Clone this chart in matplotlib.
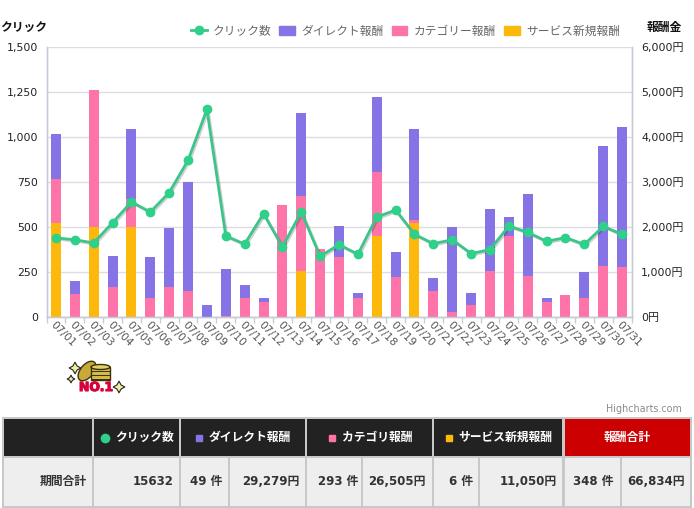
import matplotlib
matplotlib.use("Agg")
import matplotlib.pyplot as plt
import matplotlib.patheffects as pe
from matplotlib.lines import Line2D
from matplotlib.patches import Rectangle, Ellipse, Patch
import numpy as np

plt.rcParams['font.family'] = ['DejaVu Sans', 'Noto Sans CJK JP']

# data
days = [f"07/{d:02d}" for d in range(1, 32)]
clicks = [441, 431, 413, 526, 641, 585, 693, 872, 1155, 452, 407, 576, 391, 585, 339, 404,
          350, 557, 596, 461, 409, 431, 354, 376, 507, 472, 422, 443, 405, 505, 461]
service = [2100, 0, 2000, 0, 2000, 0, 0, 0, 0, 0, 0, 0, 0, 1040, 0, 0,
           0, 1800, 0, 2090, 0, 0, 0, 0, 0, 0, 0, 0, 0, 0, 0]
category = [980, 510, 3050, 670, 640, 420, 670, 580, 0, 20, 420, 330, 2490, 1650, 1510, 1330,
            420, 1430, 890, 65, 580, 110, 270, 1040, 1800, 910, 330, 490, 420, 1130, 1110]
direct = [1000, 290, 0, 690, 1540, 910, 1310, 2420, 270, 1045, 290, 110, 0, 1850, 0, 690,
          110, 1670, 555, 2030, 290, 1890, 265, 1360, 420, 1820, 90, 0, 580, 2675, 3120]

left_ticks = [0, 250, 500, 750, 1000, 1250, 1500]
right_ticks = [0, 1000, 2000, 3000, 4000, 5000, 6000]

table_head = ["クリック数", "ダイレクト報酬", "カテゴリ報酬", "サービス新規報酬", "報酬合計"]
table_row = ["期間合計", "15632", "49 件", "29,279円", "293 件", "26,505円", "6 件", "11,050円", "348 件", "66,834円"]

GREEN = "#2fd08a"
LINE_GREEN = "#3cc48a"
PURPLE = "#8673e6"
PINK = "#ff74a8"
YELLOW = "#fdb90b"
GRID = "#dcdce2"
AXIS = "#c6ccd8"

W, H = 694, 508
fig = plt.figure(figsize=(W / 100, H / 100), dpi=100)
L, R, T, B = 46.5, 631.5, 47.3, 317.3
ax = fig.add_axes([L / W, 1 - B / H, (R - L) / W, (B - T) / H])
ax2 = ax.twinx()
ax.set_zorder(2)
ax.patch.set_visible(False)
ax2.set_zorder(1)

x = np.arange(len(days))
service = np.array(service)
category = np.array(category)
direct = np.array(direct)

# stacked bars on the yen axis
ax2.bar(x, service, width=0.53, color=YELLOW, zorder=3)
ax2.bar(x, category, width=0.53, bottom=service, color=PINK, zorder=3)
ax2.bar(x, direct, width=0.53, bottom=service + category, color=PURPLE, zorder=3)

ax.plot(x, clicks, color=LINE_GREEN, lw=2.0, zorder=5,
        path_effects=[pe.SimpleLineShadow(offset=(1, -1), alpha=0.18, shadow_color="black"), pe.Normal()])
ax.plot(x, clicks, ls="", marker="o", ms=6, mfc=GREEN, mec=GREEN, zorder=6)

ax.set_xlim(-0.5, 30.5)
ax.set_ylim(0, 1500)
ax2.set_ylim(0, 6000)
ax.set_yticks(left_ticks)
ax.set_yticklabels([f"{v:,}" for v in left_ticks], fontsize=7.9, color="#222222")
ax2.set_yticks(right_ticks)
ax2.set_yticklabels([f"{v:,}円" for v in right_ticks], fontsize=7.9, color="#222222")
ax.tick_params(axis="y", length=0, pad=6)
ax2.tick_params(axis="y", length=0, pad=7)
ax2.yaxis.grid(True, color=GRID, lw=1, zorder=0)
ax2.set_axisbelow(True)

# tick marks sit between the days, labels hang off the bar centres
ax.set_xticks(x)
ax.set_xticks(np.append(x - 0.5, x[-1] + 0.5), minor=True)
ax.set_xticklabels(days, rotation=-45, ha="left", va="top", rotation_mode="anchor",
                   fontsize=7.7, color="#555555")
ax.tick_params(axis="x", which="major", length=0, pad=1.5)
ax.tick_params(axis="x", which="minor", length=4, width=1, color=AXIS)
ax2.tick_params(axis="x", length=0, labelbottom=False)

for a in (ax, ax2):
    a.spines["top"].set_visible(False)
    for s in ("left", "right", "bottom"):
        a.spines[s].set_color(AXIS)
        a.spines[s].set_linewidth(1)

handles = [
    Line2D([0], [0], color=LINE_GREEN, lw=2.0, marker="o", ms=6, mfc=GREEN, mec=GREEN),
    Patch(fc=PURPLE, ec=PURPLE),
    Patch(fc=PINK, ec=PINK),
    Patch(fc=YELLOW, ec=YELLOW),
]
names = ["クリック数", "ダイレクト報酬", "カテゴリー報酬", "サービス新規報酬"]
leg = fig.legend(handles, names, ncol=4, frameon=False, fontsize=8.45, labelcolor="#666666",
                 loc="center right", bbox_to_anchor=(620 / W, 1 - 31 / H),
                 handlelength=1.35, handleheight=0.9, handletextpad=0.55, columnspacing=0.65,
                 borderpad=0, borderaxespad=0)

# overlay in pixel coordinates for titles, the medal and the table
ov = fig.add_axes([0, 0, 1, 1], zorder=5)
ov.set_xlim(0, W)
ov.set_ylim(H, 0)
ov.axis("off")

ov.text(0, 27, "クリック", fontsize=8.5, fontweight="bold", color="#111111", va="center")
ov.text(647, 27, "報酬金", fontsize=8.5, fontweight="bold", color="#111111", va="center")
ov.text(682, 409, "Highcharts.com", fontsize=6.9, color="#8a8a8a", ha="right", va="center")

# medal
ov.add_patch(Ellipse((87, 371), 13, 23, angle=40, fc="#c9a93a", ec="#3a3208", lw=1))
ov.add_patch(Rectangle((91, 367), 19, 13, fc="#d5b94a", ec="#3a3208", lw=1))
ov.add_patch(Ellipse((100.5, 367), 19, 5, fc="#e3cf6d", ec="#3a3208", lw=1))
for py in (371, 375, 379):
    ov.plot([91, 110], [py, py], color="#3a3208", lw=0.7)
ov.scatter([75, 71, 119], [368, 379, 387], s=[70, 30, 70], marker=(4, 1, 0), fc="#f4eea0", ec="#222222", lw=0.8)
ov.text(96, 387.5, "NO.1", fontsize=9, fontweight="bold", color="#d8003a", ha="center", va="center",
        path_effects=[pe.withStroke(linewidth=0.8, foreground="#d8003a")])

# table
ov.add_patch(Rectangle((2, 417), 690, 91, fc="#c8c8c8", ec="none"))
head_cells = [(4, 92), (94, 179), (181, 305), (307, 432), (434, 562), (565, 690)]
head_colors = ["#222222"] * 5 + ["#cc0000"]
for (x0, x1), c in zip(head_cells, head_colors):
    ov.add_patch(Rectangle((x0, 419), x1 - x0, 37, fc=c, ec="none"))
body_cells = [(4, 92), (94, 179), (181, 228), (230, 305), (307, 361), (363, 432),
              (434, 478), (480, 562), (565, 620), (622, 690)]
body_right = [87, 174, 222, 299, 358, 426, 473, 557, 614, 685]
for (x0, x1), tx, label in zip(body_cells, body_right, table_row):
    ov.add_patch(Rectangle((x0, 458), x1 - x0, 48, fc="#eeeeee", ec="none"))
    ov.text(tx, 480, label, fontsize=8.5, fontweight="bold", color="#333333", ha="right", va="center_baseline")

markers = [("o", GREEN), ("s", PURPLE), ("s", PINK), ("s", YELLOW)]
centers = [145, 250, 377, 505]
dot_x = [105, 199.5, 332, 449]
for i in range(4):
    ov.text(centers[i], 437, table_head[i], fontsize=8.5, fontweight="bold",
            color="white", ha="center", va="center")
    ov.plot([dot_x[i]], [437.5], marker=markers[i][0], ms=6 if i == 0 else 5,
            mfc=markers[i][1], mec=markers[i][1], ls="")
ov.text(627, 437, table_head[4], fontsize=8.5, fontweight="bold", color="white", ha="center", va="center")

fig.savefig("out.png", dpi=100, facecolor="white")
